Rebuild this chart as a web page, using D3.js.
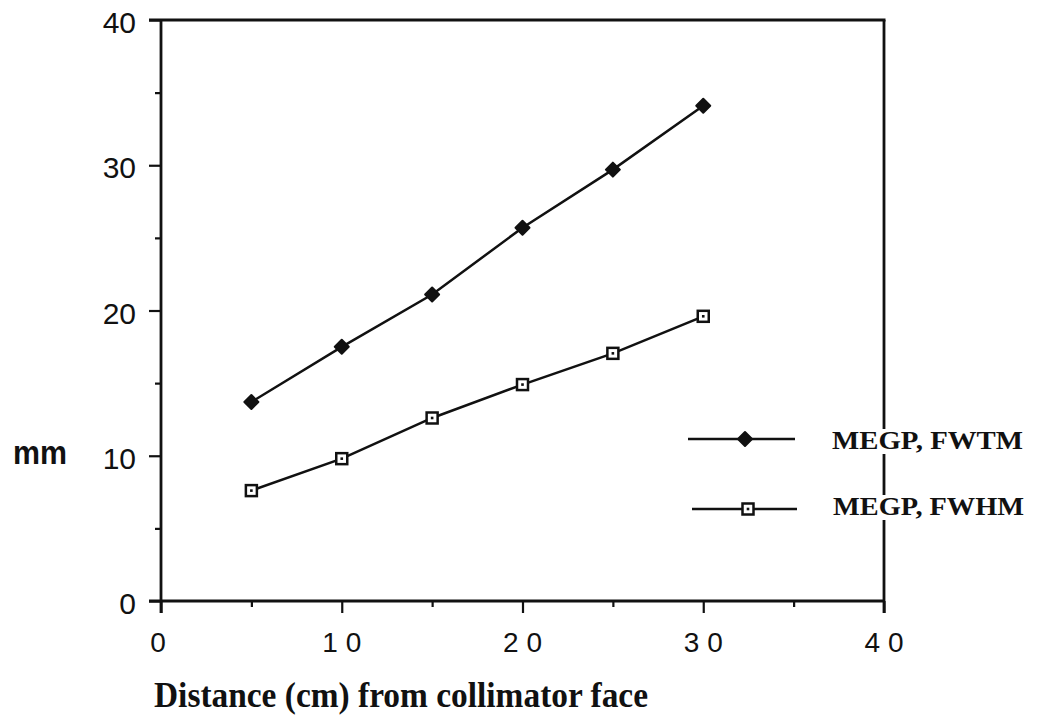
<!DOCTYPE html>
<html>
<head>
<meta charset="utf-8">
<script src="https://cdn.jsdelivr.net/npm/d3@7"></script>
<style>
  body { margin: 0; background: #fff; }
  svg { display: block; }
</style>
</head>
<body>
<div id="container"></div>
<script>
/* DATA */
const distances = [5, 10, 15, 20, 25, 30];
const fwtm = [13.7, 17.5, 21.1, 25.7, 29.7, 34.1];
const fwhm = [7.6, 9.8, 12.6, 14.9, 17.05, 19.6];
const seriesNames = ["MEGP, FWTM", "MEGP, FWHM"];
const xTicks = [0, 10, 20, 30, 40];
const yTicks = [0, 10, 20, 30, 40];

/* CONSTANTS */
const width = 1037;
const height = 719;
const plotLeft = 161, plotRight = 884, plotTop = 20, plotBottom = 601;

const svg = d3.select("#container").append("svg")
  .attr("width", width)
  .attr("height", height);

const xScale = d3.scaleLinear().domain([0, 40]).range([plotLeft, plotRight]);
const yScale = d3.scaleLinear().domain([0, 40]).range([plotBottom, plotTop]);

const stroke = "#111";

/* FRAME: top and right */
svg.append("line")
  .attr("x1", plotLeft - 12).attr("x2", plotRight + 1.5)
  .attr("y1", plotTop).attr("y2", plotTop)
  .attr("stroke", stroke).attr("stroke-width", 2.8);
svg.append("line")
  .attr("x1", plotRight).attr("x2", plotRight)
  .attr("y1", plotTop).attr("y2", plotBottom + 12)
  .attr("stroke", stroke).attr("stroke-width", 2.8);

/* AXES */
const xAxis = d3.axisBottom(xScale)
  .tickValues(d3.range(0, 41, 5))
  .tickSize(0)
  .tickFormat("");
const gx = svg.append("g")
  .attr("transform", `translate(0, ${plotBottom})`)
  .call(xAxis);
gx.select(".domain").attr("stroke", stroke).attr("stroke-width", 2.8)
  .attr("d", `M${plotLeft - 12},0H${plotRight}`);
gx.selectAll(".tick line")
  .attr("stroke", stroke).attr("stroke-width", 2.2)
  .attr("y2", d => d % 10 === 0 ? 12 : 6);

const xLetterSpacing = 8;
gx.selectAll("text.xlab")
  .data(xTicks)
  .join("text")
  .attr("class", "xlab")
  .attr("x", d => xScale(d) + xLetterSpacing / 2 - (d === 0 ? 3 : 0))
  .attr("y", 51)
  .attr("text-anchor", "middle")
  .attr("font-family", "Liberation Sans, Arial, sans-serif")
  .attr("font-size", 28)
  .attr("letter-spacing", xLetterSpacing)
  .attr("fill", stroke)
  .text(d => d);

const yAxis = d3.axisLeft(yScale)
  .tickValues(d3.range(0, 41, 5))
  .tickSize(0)
  .tickFormat("");
const gy = svg.append("g")
  .attr("transform", `translate(${plotLeft}, 0)`)
  .call(yAxis);
gy.select(".domain").attr("stroke", stroke).attr("stroke-width", 2.8)
  .attr("d", `M0,${plotTop}V${plotBottom + 12}`);
gy.selectAll(".tick line")
  .attr("stroke", stroke).attr("stroke-width", 2.2)
  .attr("x2", d => d % 10 === 0 ? -12 : -6);

gy.selectAll("text.ylab")
  .data(yTicks)
  .join("text")
  .attr("class", "ylab")
  .attr("x", -25)
  .attr("y", d => yScale(d) + 13)
  .attr("text-anchor", "end")
  .attr("font-family", "Liberation Sans, Arial, sans-serif")
  .attr("font-size", 30)
  .attr("fill", stroke)
  .text(d => d);

/* AXIS TITLES */
svg.append("text")
  .attr("x", 13).attr("y", 464)
  .attr("font-family", "Liberation Sans, Arial, sans-serif")
  .attr("font-weight", "bold")
  .attr("font-size", 33)
  .attr("textLength", 54)
  .attr("lengthAdjust", "spacingAndGlyphs")
  .attr("fill", stroke)
  .text("mm");

svg.append("text")
  .attr("x", 154).attr("y", 707)
  .attr("font-family", "Liberation Serif, Times New Roman, serif")
  .attr("font-weight", "bold")
  .attr("font-size", 36)
  .attr("textLength", 494)
  .attr("lengthAdjust", "spacingAndGlyphs")
  .attr("fill", stroke)
  .text("Distance (cm) from collimator face");

/* LINES */
const line = d3.line()
  .x((d, i) => xScale(distances[i]))
  .y(d => yScale(d));

svg.append("path")
  .datum(fwtm)
  .attr("d", line)
  .attr("fill", "none")
  .attr("stroke", stroke).attr("stroke-width", 2.5);

svg.append("path")
  .datum(fwhm)
  .attr("d", line)
  .attr("fill", "none")
  .attr("stroke", stroke).attr("stroke-width", 2.5);

const diamond = (g, x, y) => g.append("path")
  .attr("d", `M${x},${y - 7}L${x + 7},${y}L${x},${y + 7}L${x - 7},${y}Z`)
  .attr("fill", stroke).attr("stroke", stroke).attr("stroke-width", 2)
  .attr("stroke-linejoin", "round");

const square = (g, x, y) => {
  g.append("rect")
    .attr("x", x - 5.5).attr("y", y - 5.5)
    .attr("width", 11).attr("height", 11)
    .attr("fill", "#fff").attr("stroke", stroke).attr("stroke-width", 2.5);
  g.append("rect")
    .attr("x", x - 1.3).attr("y", y - 1.3)
    .attr("width", 2.6).attr("height", 2.6)
    .attr("fill", stroke);
};

const marks = svg.append("g");
fwtm.forEach((v, i) => diamond(marks, xScale(distances[i]), yScale(v)));
fwhm.forEach((v, i) => square(marks, xScale(distances[i]), yScale(v)));

/* LEGEND */
const legend = svg.append("g");
const legendRows = [
  { y: 439, x0: 688, x1: 795, mx: 745, tx: 832, ty: 449 },
  { y: 509, x0: 692, x1: 797, mx: 748, tx: 833, ty: 515 }
];
const legendMarkers = [diamond, square];
legendRows.forEach((r, i) => {
  legend.append("line")
    .attr("x1", r.x0).attr("x2", r.x1)
    .attr("y1", r.y).attr("y2", r.y)
    .attr("stroke", stroke).attr("stroke-width", 2.5);
  legendMarkers[i](legend, r.mx, r.y);
  const t = legend.append("text")
    .attr("x", r.tx).attr("y", r.ty)
    .attr("font-family", "Liberation Serif, Times New Roman, serif")
    .attr("font-weight", "bold")
    .attr("font-size", 25)
    .attr("textLength", 191)
    .attr("lengthAdjust", "spacingAndGlyphs")
    .attr("fill", stroke)
    .text(seriesNames[i]);
  const bb = t.node().getBBox();
  legend.insert("rect", "text")
    .attr("x", bb.x - 4).attr("y", bb.y + 2)
    .attr("width", bb.width + 8).attr("height", bb.height - 2)
    .attr("fill", "#fff");
});
</script>
</body>
</html>
